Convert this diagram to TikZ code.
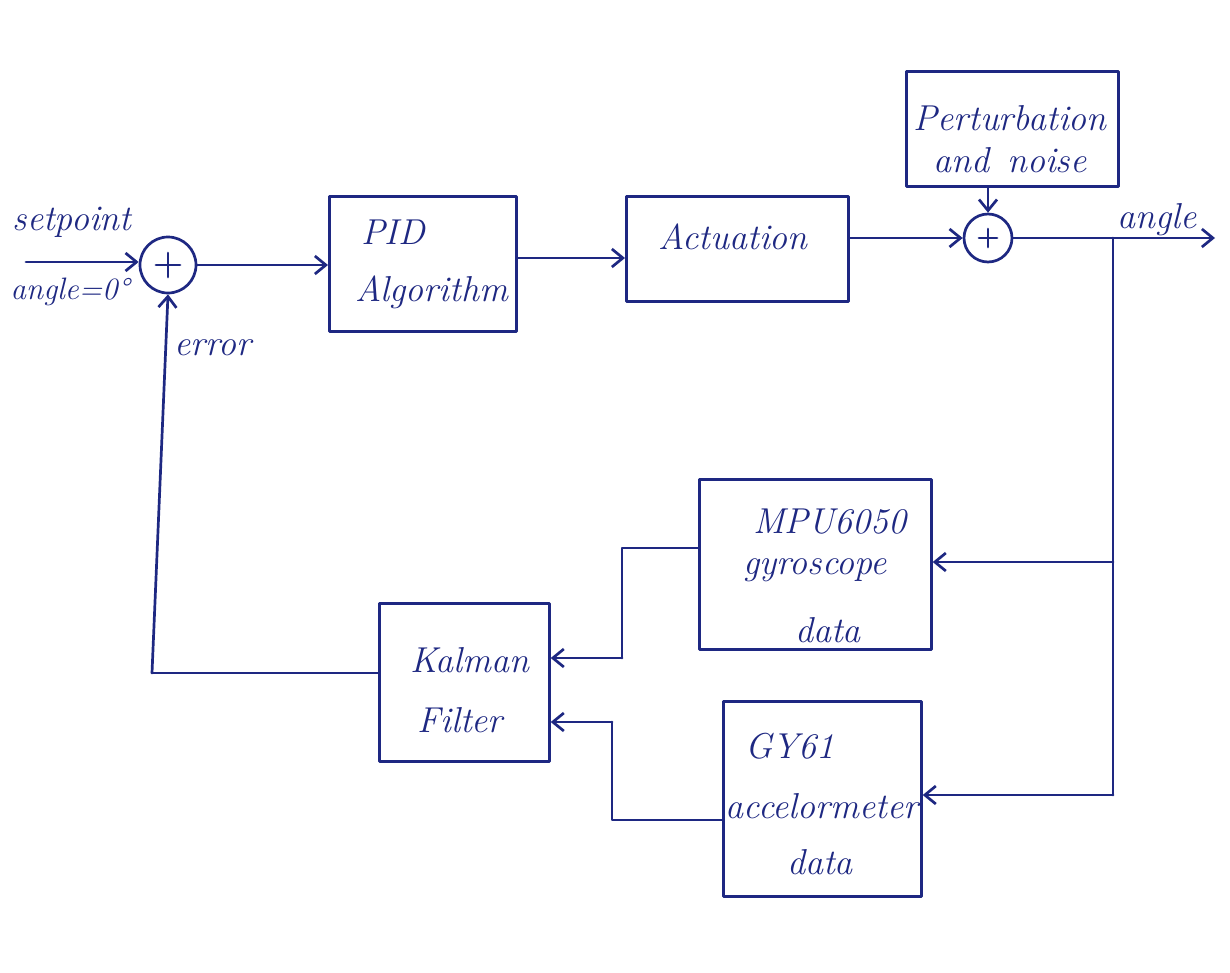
\documentclass[tikz,border=0pt]{standalone}
\usetikzlibrary{arrows.meta,calc}
\definecolor{ink}{RGB}{30,40,130}
\begin{document}
\begin{tikzpicture}[x=1pt,y=-1pt,
  ink line/.style={draw=ink,line width=2.7pt,line cap=round,line join=round},
  blockbox/.style={ink line,rectangle,inner sep=0pt,anchor=north west},
  sumnode/.style={ink line,circle,minimum size=#1,inner sep=0pt},
  lbl/.style={text=ink,font=\fontsize{36}{40}\selectfont\itshape,align=center,inner sep=0pt},
  small lbl/.style={lbl,font=\fontsize{31}{36}\selectfont\itshape},
  arr/.style={ink line,-{Straight Barb[length=11pt,width=18pt,line width=2.7pt]}},
  link/.style={ink line}]
\useasboundingbox[fill=white] (0,0) rectangle (1230,972);

% blocks
\node[blockbox,minimum width=187pt,minimum height=135pt] (pid) at (328,195) {};
\node[blockbox,minimum width=222pt,minimum height=105pt] (act) at (625,195) {};
\node[blockbox,minimum width=212pt,minimum height=115pt] (pert) at (905,70) {};
\node[blockbox,minimum width=232pt,minimum height=170pt] (mpu) at (698,478) {};
\node[blockbox,minimum width=198pt,minimum height=195pt] (gy) at (722,700) {};
\node[blockbox,minimum width=170pt,minimum height=158pt] (kal) at (378,602) {};

% sums
\node[sumnode=56pt] (s1) at (168,265) {};
\node[sumnode=48pt] (s2) at (988,238) {};
\draw[ink line] ($(s1)+(-12,0)$) -- ++(24,0) ($(s1)+(0,-12)$) -- ++(0,24);
\draw[ink line] ($(s2)+(-9,0)$) -- ++(18,0) ($(s2)+(0,-9)$) -- ++(0,18);

% texts
\node[lbl] (tsp) at (72,222) {setpoint};
\node[small lbl] (tang) at (70,292) {angle=0°};
\node[lbl,anchor=west] (terr) at (174,348) {error};
\node[lbl] (tpid) at (393,232) {PID};
\node[lbl] (talg) at (432,292) {Algorithm};
\node[lbl] (tact) at (733,237) {Actuation};
\node[lbl] (tpert) at (1010,118) {Perturbation};
\node[lbl] (tnoise) at (1010,160) {and\enspace noise};
\node[lbl] (tout) at (1157,220) {angle};
\node[lbl] (tmpu) at (830,522) {MPU6050};
\node[lbl] (tgyro) at (815,570) {gyroscope};
\node[lbl] (tmdata) at (828,630) {data};
\node[lbl] (tgy) at (790,746) {GY61};
\node[lbl] (tacc) at (822,806) {accelormeter};
\node[lbl] (tgdata) at (820,862) {data};
\node[lbl] (tkal) at (470,660) {Kalman};
\node[lbl] (tfil) at (460,720) {Filter};

% coordinates
\coordinate (in) at (26,262);
\coordinate (out) at (1215,238);
\coordinate (br) at (1113,238);
\coordinate (brm) at (1113,562);
\coordinate (brg) at (1113,795);
\coordinate (fb1) at (152,673);
\coordinate (m1) at (622,548);
\coordinate (m2) at (622,658);
\coordinate (g1) at (612,820);
\coordinate (g2) at (612,722);

% forward path
\draw[arr] (in) -- (s1.west |- in);
\draw[arr] (s1.east) -- (pid.west |- s1.east);
\draw[arr] (pid.east |- 0,258) -- (act.west |- 0,258);
\draw[arr] (act.east |- s2) -- (s2.west);
\draw[arr] (pert.south -| s2) -- (s2.north);
\draw[arr] (s2.east) -- (out);

% feedback
\draw[link] (br) -- (brg);
\draw[arr] (brm) -- (mpu.east |- brm);
\draw[arr] (brg) -- (gy.east |- brg);
\draw[link] (mpu.west |- m1) -- (m1) -- (m2);
\draw[arr] (m2) -- (kal.east |- m2);
\draw[link] (gy.west |- g1) -- (g1) -- (g2);
\draw[arr] (g2) -- (kal.east |- g2);
\draw[link] (kal.west |- fb1) -- (fb1);
\draw[arr] (fb1) -- (s1.south);
\end{tikzpicture}
\end{document}
